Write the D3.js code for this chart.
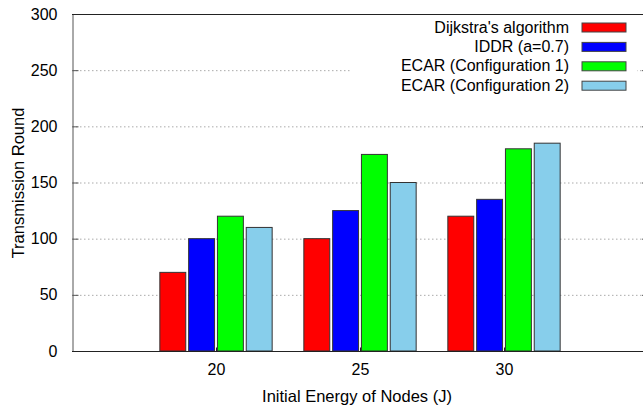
<!DOCTYPE html>
<html><head><meta charset="utf-8">
<script src="https://cdn.jsdelivr.net/npm/d3@7"></script>
<style>body{margin:0;background:#fff}svg{display:block;font-family:"Liberation Sans",Arial,sans-serif}</style>
</head><body><svg id="c" width="643" height="412"></svg>
<script>
const categories = ["20", "25", "30"];
const seriesNames = ["Dijkstra's algorithm", "IDDR (a=0.7)", "ECAR (Configuration 1)", "ECAR (Configuration 2)"];
const dijkstra = [70, 100, 120];
const iddr = [100, 125, 135];
const ecar1 = [120, 175, 180];
const ecar2 = [110, 150, 185];
const colors = ["#ff0000", "#0000ff", "#00ff00", "#87ceeb"];
const yTicks = [0, 50, 100, 150, 200, 250, 300];
const seriesValues = [dijkstra, iddr, ecar1, ecar2];

const svg = d3.select("#c");
const L = 72, R = 648, T = 14, B = 351;
const FS = 16;
const x = d3.scaleLinear().domain([0, 4]).range([L, R]);
const y = d3.scaleLinear().domain([0, 300]).range([B, T]);

// grid
svg.append("g").selectAll("line").data(yTicks.filter(v => v > 0 && v < 300)).join("line")
  .attr("x1", L).attr("x2", R).attr("y1", d => y(d) + 0.5).attr("y2", d => y(d) + 0.5)
  .attr("stroke", "#aaa").attr("stroke-width", 1).attr("stroke-dasharray", "1.5,2.5");

// legend background
svg.append("rect").attr("x", 350).attr("y", 17).attr("width", 287).attr("height", 79).attr("fill", "#fff");

// bars
const barStep = 0.2, barW = 0.18;
seriesValues.forEach((vals, si) => {
  svg.append("g").selectAll("rect").data(vals).join("rect")
    .attr("x", (d, i) => x(i + 1 + (si - 1.5) * barStep - barW / 2))
    .attr("width", x(barW) - x(0))
    .attr("y", d => y(d))
    .attr("height", d => y(0) - y(d))
    .attr("fill", colors[si]).attr("stroke", "#333").attr("stroke-width", 1);
});

// axes
const yAxis = d3.axisLeft(y).tickValues(yTicks).tickSize(-6).tickPadding(15);
const gy = svg.append("g").attr("transform", `translate(${L + 0.5},0)`).call(yAxis);
gy.select(".domain").attr("stroke", "#555");
gy.selectAll(".tick line").attr("stroke", "#555");
gy.selectAll("text").attr("font-size", FS).attr("fill", "#000").attr("font-family", "Liberation Sans, Arial, sans-serif");

const xAxis = d3.axisBottom(x).tickValues([1, 2, 3]).tickFormat((d, i) => categories[i]).tickSize(-4).tickPadding(12);
const gx = svg.append("g").attr("transform", `translate(0,${B + 0.5})`).call(xAxis);
gx.select(".domain").remove();
gx.selectAll(".tick line").attr("stroke", "#222");
gx.selectAll("text").attr("font-size", FS).attr("fill", "#000").attr("font-family", "Liberation Sans, Arial, sans-serif");

// borders
svg.append("line").attr("x1", L).attr("x2", R).attr("y1", T + 0.5).attr("y2", T + 0.5).attr("stroke", "#222");
svg.append("line").attr("x1", L).attr("x2", R).attr("y1", B + 0.5).attr("y2", B + 0.5).attr("stroke", "#222");
// right-side mirror ticks
svg.append("g").selectAll("line").data(yTicks.filter(v => v > 0 && v < 300)).join("line")
  .attr("x1", R - 6).attr("x2", R).attr("y1", d => y(d) + 0.5).attr("y2", d => y(d) + 0.5).attr("stroke", "#555");

// legend
const lg = svg.append("g");
seriesNames.forEach((name, i) => {
  const cy = 27.5 + i * 19.4;
  lg.append("text").attr("x", 569).attr("y", cy + 5).attr("text-anchor", "end")
    .attr("font-size", FS).text(name);
  lg.append("rect").attr("x", 582).attr("y", cy - 4.5).attr("width", 44).attr("height", 9)
    .attr("fill", colors[i]).attr("stroke", "#444").attr("stroke-width", 1);
});

// axis titles
svg.append("text").attr("x", 357).attr("y", 402).attr("text-anchor", "middle").attr("font-size", 16.5).text("Initial Energy of Nodes (J)");
svg.append("text").attr("transform", "translate(23.5,183) rotate(-90)").attr("text-anchor", "middle").attr("font-size", 16.5).text("Transmission Round");
</script></body></html>
